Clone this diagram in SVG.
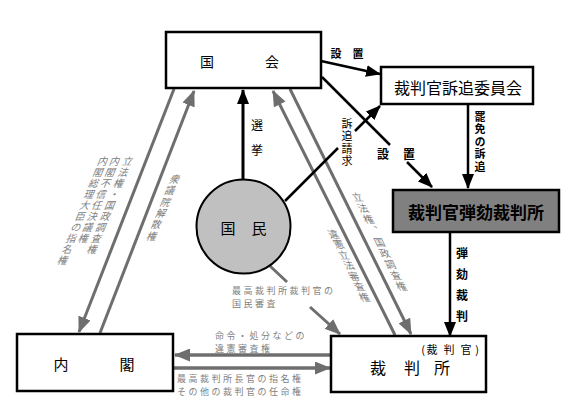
<svg xmlns="http://www.w3.org/2000/svg" width="580" height="413" viewBox="0 0 580 413">
<style>
.box{fill:#fff;stroke:#000;stroke-width:2.5}
.t{font-family:"Noto Sans CJK JP","Noto Sans",sans-serif;dominant-baseline:central;text-anchor:middle;fill:#000}
.g{font-family:"Noto Sans CJK JP","Noto Sans",sans-serif;font-size:9px;letter-spacing:2.5px;fill:#808080;dominant-baseline:central}
.v{font-family:"Noto Sans CJK JP","Noto Sans",sans-serif;writing-mode:vertical-rl;fill:#000}
.vg{font-family:"Noto Sans CJK JP","Noto Sans",sans-serif;writing-mode:vertical-rl;fill:#808080;font-size:10px;letter-spacing:1px}
.gl{stroke:#6e6e6e;stroke-width:3;fill:none}
.bl{stroke:#000;stroke-width:2.5;fill:none}
</style>
<defs>
<marker id="ag" markerUnits="userSpaceOnUse" markerWidth="16" markerHeight="13" refX="15" refY="6.5" orient="auto"><path d="M0,0 L16,6.5 L0,13 z" fill="#6e6e6e"/></marker>
<marker id="ab" markerUnits="userSpaceOnUse" markerWidth="15" markerHeight="12" refX="14" refY="6" orient="auto"><path d="M0,0 L15,6 L0,12 z" fill="#000"/></marker>
</defs>
<g id="connectors">
<line class="gl" x1="174" y1="89" x2="79" y2="332" marker-end="url(#ag)"/>
<line class="gl" x1="100" y1="333" x2="194" y2="91" marker-end="url(#ag)"/>
<line class="gl" x1="395" y1="335" x2="273" y2="91" marker-end="url(#ag)"/>
<line class="gl" x1="290" y1="89" x2="411" y2="334" marker-end="url(#ag)"/>
<line class="gl" x1="331" y1="355" x2="175" y2="355" marker-end="url(#ag)" style="stroke-width:3.5"/>
<line class="gl" x1="174" y1="368" x2="330" y2="368" marker-end="url(#ag)" style="stroke-width:3.5"/>
<line class="gl" x1="270" y1="266" x2="287" y2="282"/>
<line class="gl" x1="310" y1="307" x2="340" y2="334" marker-end="url(#ag)"/>
<line class="bl" x1="243" y1="180" x2="243" y2="90" marker-end="url(#ab)" style="stroke-width:3"/>
<line class="bl" x1="285" y1="201" x2="338" y2="148"/>
<line class="bl" x1="355" y1="131" x2="380" y2="106" marker-end="url(#ab)"/>
<line class="bl" x1="321" y1="61" x2="380" y2="74" marker-end="url(#ab)"/>
<line class="bl" x1="322" y1="77" x2="390" y2="145"/>
<line class="bl" x1="407" y1="162" x2="432" y2="187" marker-end="url(#ab)"/>
<line class="bl" x1="468" y1="104" x2="468" y2="188" marker-end="url(#ab)"/>
<line class="bl" x1="450" y1="233" x2="450" y2="336" marker-end="url(#ab)"/>
<text class="t" x="336 358" y="53" style="font-size:11px;font-weight:bold">設置</text>
<text class="t" x="383 409" y="153" style="font-size:12px;font-weight:bold">設置</text>
<text class="v" x="347" y="118" style="font-size:11px;letter-spacing:1.6px">訴追請求</text>
<text class="v" x="480" y="111" style="font-size:11px;font-weight:bold;letter-spacing:1.5px">罷免の訴追</text>
<text class="v" x="462" y="247" style="font-size:12px;font-weight:bold;letter-spacing:9px">弾劾裁判</text>
<text class="v" x="257" y="119" style="font-size:12px;letter-spacing:13px">選挙</text>
<text class="vg" transform="translate(130,156) skewX(-22)">立法権・国政調査権</text>
<text class="vg" transform="translate(117,156) skewX(-22)">内閣不信任決議権</text>
<text class="vg" transform="translate(105,156) skewX(-22)">内閣総理大臣の指名権</text>
<text class="vg" transform="translate(177,174) skewX(-22)" style="letter-spacing:1.4px">衆議院解散権</text>
<text class="vg" transform="translate(331,229) skewX(26)" style="letter-spacing:0.5px">違憲立法審査権</text>
<text class="vg" transform="translate(355,192) skewX(26)" style="letter-spacing:1.2px">立法権、国政調査権</text>
<text class="g"><tspan x="232" y="289.5">最高裁判所裁判官の</tspan><tspan x="232" y="302.5">国民審査</tspan></text>
<text class="g"><tspan x="215" y="334.5">命令・処分などの</tspan><tspan x="215" y="347.5">違憲審査権</tspan></text>
<text class="g"><tspan x="177" y="378">最高裁判所長官の指名権</tspan><tspan x="177" y="391">その他の裁判官の任命権</tspan></text>
</g>
<g id="kokkai">
<rect class="box" x="166" y="32" width="155" height="56"/>
<text class="t" x="207 272" y="61" style="font-size:14px">国会</text>
</g>
<g id="sotsui">
<rect class="box" x="381" y="67" width="152" height="37"/>
<text class="t" x="458" y="87" style="font-size:16px">裁判官訴追委員会</text>
</g>
<g id="dangai">
<rect x="393" y="190" width="166" height="42" style="fill:#808080;stroke:#000;stroke-width:2.5"/>
<text class="t" x="476" y="211" style="font-size:17px;font-weight:bold">裁判官弾劾裁判所</text>
</g>
<g id="kokumin">
<circle cx="243.5" cy="226.5" r="47" style="fill:#c0c0c0;stroke:#000;stroke-width:2"/>
<text class="t" x="228 259" y="227" style="font-size:15px">国民</text>
</g>
<g id="naikaku">
<rect class="box" x="17" y="334" width="156" height="57"/>
<text class="t" x="61 127" y="363" style="font-size:15px">内閣</text>
</g>
<g id="saibansho">
<rect class="box" x="331" y="336" width="155" height="56"/>
<text class="t" x="423 432 449 466 477" y="349" style="font-size:11px">(裁判官)</text>
<text class="t" x="378 412 442" y="367" style="font-size:16px">裁判所</text>
</g>
</svg>
